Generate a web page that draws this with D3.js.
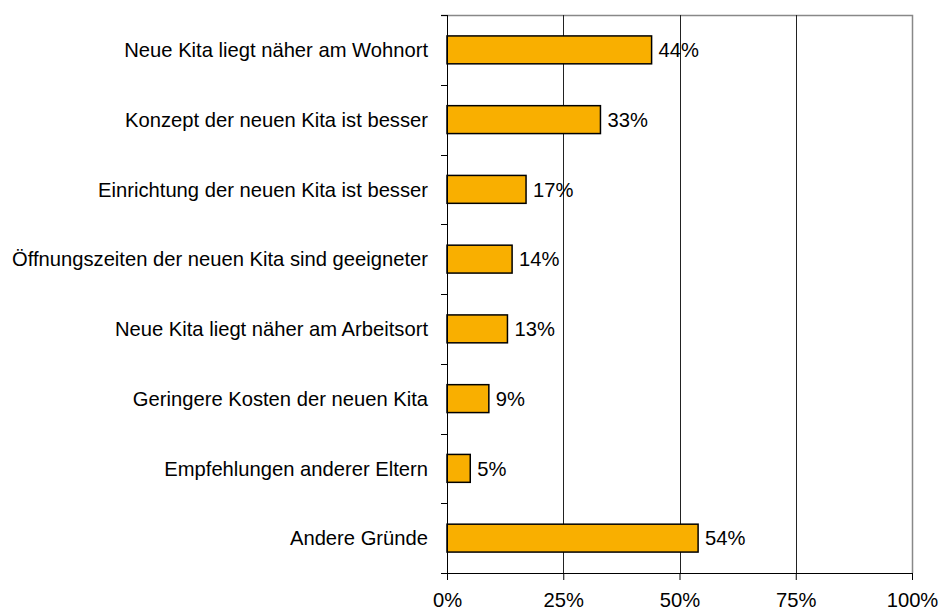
<!DOCTYPE html>
<html>
<head>
<meta charset="utf-8">
<script src="https://cdn.jsdelivr.net/npm/d3@7"></script>
<style>
  body { margin: 0; background: #fff; }
  text { font-family: "Liberation Sans", Arial, sans-serif; fill: #000; }
</style>
</head>
<body>
<div id="chart"></div>
<script>
var categories = [
    "Neue Kita liegt näher am Wohnort",
    "Konzept der neuen Kita ist besser",
    "Einrichtung der neuen Kita ist besser",
    "Öffnungszeiten der neuen Kita sind geeigneter",
    "Neue Kita liegt näher am Arbeitsort",
    "Geringere Kosten der neuen Kita",
    "Empfehlungen anderer Eltern",
    "Andere Gründe"
];
var values = [44, 33, 17, 14, 13, 9, 5, 54];
var xTicks = [0, 25, 50, 75, 100];

var width = 941, height = 612;
var margin = {top: 15, right: 29, bottom: 39, left: 447};
var w = width - margin.left - margin.right;
var h = height - margin.top - margin.bottom;
var fontSize = "20.2px";

var svg = d3.select("#chart")
    .append("svg")
    .attr("width", width)
    .attr("height", height);

var g = svg.append("g")
    .attr("transform", "translate(" + margin.left + "," + margin.top + ")");

var x = d3.scaleLinear().domain([0, 100]).range([0, w]);
var y = d3.scaleBand().domain(categories).range([0, h]).paddingInner(0.6).paddingOuter(0.3);

// frame (top and right)
g.append("path")
    .attr("d", "M" + (-6) + ",0.5H" + (w + 0.5) + "V" + h)
    .attr("fill", "none")
    .attr("stroke", "#888")
    .attr("stroke-width", 1.5);

// gridlines
g.selectAll(".grid")
    .data(xTicks.slice(1, -1))
    .enter()
    .append("line")
    .attr("class", "grid")
    .attr("x1", d => Math.round(x(d)) + 0.5)
    .attr("x2", d => Math.round(x(d)) + 0.5)
    .attr("y1", 0)
    .attr("y2", h)
    .attr("stroke", "#222")
    .attr("stroke-width", 1);

// bars
g.selectAll(".bar")
    .data(values)
    .enter()
    .append("rect")
    .attr("class", "bar")
    .attr("x", 0)
    .attr("y", (d, i) => y(categories[i]))
    .attr("width", d => x(d))
    .attr("height", y.bandwidth())
    .attr("fill", "#F9AF00")
    .attr("stroke", "#000")
    .attr("stroke-width", 1.5);

// value labels
g.selectAll(".val")
    .data(values)
    .enter()
    .append("text")
    .attr("class", "val")
    .attr("x", d => x(d) + 7)
    .attr("y", (d, i) => y(categories[i]) + y.bandwidth() / 2)
    .attr("dy", "0.36em")
    .style("font-size", fontSize)
    .text(d => d + "%");

// x axis
var xAxis = g.append("g")
    .attr("transform", "translate(0," + h + ")")
    .call(d3.axisBottom(x).tickValues(xTicks).tickSize(7).tickPadding(13).tickFormat(d => d + "%"));
xAxis.select(".domain").attr("d", "M-6,0.5H" + (w + 0.5));
xAxis.selectAll("line").attr("stroke", "#000");
xAxis.selectAll("text").style("font-size", fontSize).attr("font-family", null);

// y axis
var boundaries = d3.range(categories.length + 1).map(i => i * h / categories.length);
g.append("line")
    .attr("x1", 0.5).attr("x2", 0.5)
    .attr("y1", 0).attr("y2", h + 7)
    .attr("stroke", "#000");
g.selectAll(".ytick")
    .data(boundaries)
    .enter()
    .append("line")
    .attr("class", "ytick")
    .attr("x1", -6).attr("x2", 0)
    .attr("y1", d => Math.round(d) + 0.5)
    .attr("y2", d => Math.round(d) + 0.5)
    .attr("stroke", "#000");

g.selectAll(".cat")
    .data(categories)
    .enter()
    .append("text")
    .attr("class", "cat")
    .attr("x", -19)
    .attr("y", d => y(d) + y.bandwidth() / 2)
    .attr("dy", "0.36em")
    .attr("text-anchor", "end")
    .style("font-size", fontSize)
    .text(d => d);
</script>
</body>
</html>
